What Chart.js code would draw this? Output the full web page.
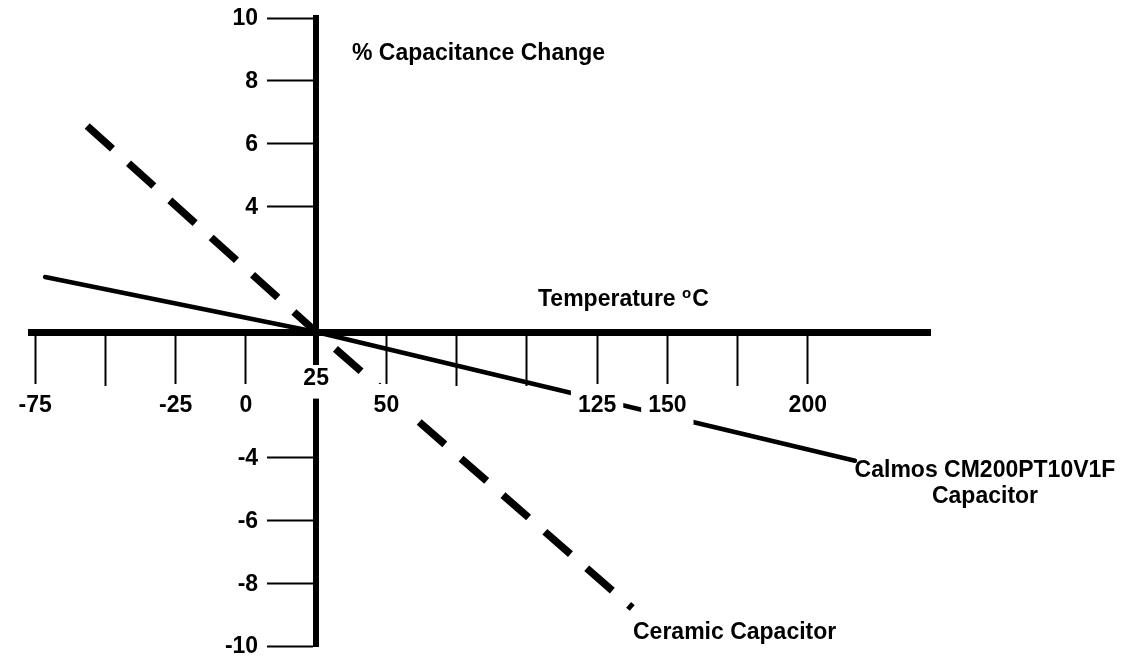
<!DOCTYPE html>
<html>
<head>
<meta charset="utf-8">
<script src="https://cdn.jsdelivr.net/npm/chart.js@4.4.1/dist/chart.umd.min.js"></script>
<style>
html,body{margin:0;padding:0;background:#fff;}
#wrap{width:1121px;height:660px;}
</style>
</head>
<body>
<div id="wrap"><canvas id="c" width="1121" height="660"></canvas></div>
<script>
// ---- data ----
const temperatureTicks = [-75, -50, -25, 0, 25, 50, 75, 100, 125, 150, 175, 200];
const temperatureTickLabels = ['-75', '', '-25', '0', '', '50', '', '', '125', '150', '', '200'];
const originTickValues = [25];
const originTickLabels = ['25'];
const changeTicks = [10, 8, 6, 4, -4, -6, -8, -10];
const changeTickLabels = ['10', '8', '6', '4', '-4', '-6', '-8', '-10'];

const calmosTemp = [-71.5, 25, 216.8];
const calmosChange = [1.75, 0, -4.1];
const ceramicTemp = [-56.5, 25, 137.5];
const ceramicChange = [6.56, 0, -8.79];

const seriesNames = ['Calmos CM200PT10V1F Capacitor', 'Ceramic Capacitor'];
const yTitle = '% Capacitance Change';
const xTitle = 'Temperature';
const xUnitSup = 'o';
const xUnit = 'C';

// ---- helpers ----
const FAMILY = '"Liberation Sans", Arial, Helvetica, sans-serif';
const tickFont = {family: FAMILY, size: 23, weight: 'bold', lineHeight: 1.2};
function lookup(values, labels, v) {
  const i = values.indexOf(v);
  return i >= 0 ? labels[i] : '';
}
function toPoints(xs, ys) { return xs.map((x, i) => ({x: x, y: ys[i]})); }

const textPlugin = {
  id: 'texts',
  afterDraw(chart) {
    const ctx = chart.ctx;
    const xs = chart.scales.x, ys = chart.scales.y;
    ctx.save();
    ctx.fillStyle = '#000';
    ctx.font = 'bold 23px ' + FAMILY;
    // y tick labels, left of the tick marks on the central axis
    const axisX = xs.getPixelForValue(originTickValues[0]);
    ctx.textAlign = 'right';
    ctx.textBaseline = 'middle';
    changeTicks.forEach((v, i) => {
      ctx.fillText(changeTickLabels[i], axisX - 58, ys.getPixelForValue(v) + 1);
    });
    ctx.textBaseline = 'alphabetic';
    ctx.textAlign = 'left';
    ctx.fillText(yTitle, 352, 60);
    // x title with superscript
    let x = 538;
    ctx.fillText(xTitle + ' ', x, 306);
    x += ctx.measureText(xTitle + ' ').width;
    ctx.font = 'bold 15px ' + FAMILY;
    ctx.fillText(xUnitSup, x, 298);
    x += ctx.measureText(xUnitSup).width + 1;
    ctx.font = 'bold 23px ' + FAMILY;
    ctx.fillText(xUnit, x, 306);
    // series labels
    ctx.textAlign = 'center';
    ctx.fillText('Calmos CM200PT10V1F', 985, 477);
    ctx.fillText('Capacitor', 985, 503);
    ctx.textAlign = 'left';
    ctx.fillText(seriesNames[1], 633, 639);
    ctx.restore();
  }
};

new Chart(document.getElementById('c'), {
  type: 'line',
  data: {
    datasets: [
      {
        label: seriesNames[0],
        data: toPoints(calmosTemp, calmosChange),
        borderColor: '#000',
        borderWidth: 4.5,
        borderCapStyle: 'round',
        borderJoinStyle: 'round',
        pointRadius: 0,
        tension: 0,
        fill: false,
        xAxisID: 'x',
        yAxisID: 'y'
      },
      {
        label: seriesNames[1],
        data: toPoints(ceramicTemp, ceramicChange),
        borderColor: '#000',
        borderWidth: 7.5,
        borderDash: [34, 21.6],
        borderCapStyle: 'butt',
        pointRadius: 0,
        tension: 0,
        fill: false,
        xAxisID: 'x',
        yAxisID: 'y'
      }
    ]
  },
  options: {
    responsive: false,
    animation: false,
    devicePixelRatio: 1,
    layout: {padding: {left: 31, right: 191, top: 18, bottom: 14}},
    plugins: {legend: {display: false}, tooltip: {enabled: false}, title: {display: false}},
    scales: {
      x: {
        type: 'linear',
        position: {y: 0},
        min: -76.5,
        max: 243.5,
        afterBuildTicks: s => { s.ticks = temperatureTicks.map(v => ({value: v})); },
        border: {display: true, width: 7, color: '#000', z: 0},
        grid: {
          drawOnChartArea: false, drawTicks: true, tickLength: 50, tickWidth: 2, color: '#000',
          tickColor: c => (c.tick && c.tick.value === 25) ? 'rgba(0,0,0,0)' : '#000'
        },
        ticks: {
          z: 1,
          autoSkip: false, maxRotation: 0, minRotation: 0, padding: 10, color: '#000', font: tickFont,
          callback: v => lookup(temperatureTicks, temperatureTickLabels, v),
          showLabelBackdrop: c => !!(c.tick && lookup(temperatureTicks, temperatureTickLabels, c.tick.value) !== ''),
          backdropColor: '#fff',
          backdropPadding: {top: 8, bottom: 5, left: 7, right: 7}
        }
      },
      x2: {
        type: 'linear',
        axis: 'x',
        position: {y: 0},
        min: -76.5,
        max: 243.5,
        afterBuildTicks: s => { s.ticks = originTickValues.map(v => ({value: v})); },
        border: {display: false},
        grid: {drawOnChartArea: false, drawTicks: true, tickLength: 28, tickColor: 'rgba(0,0,0,0)'},
        ticks: {
          z: 2,
          autoSkip: false, maxRotation: 0, minRotation: 0, padding: 5, color: '#000', font: tickFont,
          callback: v => lookup(originTickValues, originTickLabels, v),
          showLabelBackdrop: true,
          backdropColor: '#fff',
          backdropPadding: {top: 0, bottom: 6, left: 4, right: 4}
        }
      },
      y: {
        type: 'linear',
        position: {x: 25},
        min: -10,
        max: 10,
        afterBuildTicks: s => { s.ticks = changeTicks.map(v => ({value: v})); },
        border: {display: true, width: 6, color: '#000', z: 0},
        grid: {drawOnChartArea: false, drawTicks: true, tickLength: 46, tickWidth: 2, tickColor: '#000', color: '#000'},
        ticks: {display: false}
      }
    }
  },
  plugins: [textPlugin]
});
</script>
</body>
</html>
